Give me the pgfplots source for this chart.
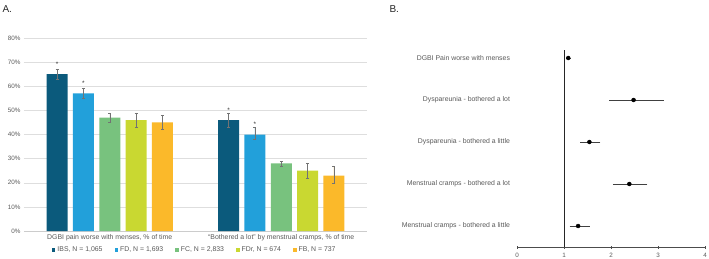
\documentclass[border=0pt]{standalone}
\usepackage{pgfplots}
\pgfplotsset{compat=1.18}
\usepackage{pgfplotstable}
\usepackage{fontspec}
\setmainfont{Liberation Sans}
\definecolor{cIBS}{HTML}{0B5A7C}
\definecolor{cFD}{HTML}{22A0DA}
\definecolor{cFC}{HTML}{78C27E}
\definecolor{cFDr}{HTML}{C9D831}
\definecolor{cFB}{HTML}{FBB92A}
\definecolor{txt}{HTML}{595959}
\pgfplotstableread{
x y ep em
0 65 2 2
1 46 3 3
}\ibs
\pgfplotstableread{
x y ep em
0 57 2 2
1 40 3 2
}\fd
\pgfplotstableread{
x y ep em
0 47 2 2
1 28 1 1
}\fc
\pgfplotstableread{
x y ep em
0 46 3 3
1 25 3 3
}\fdr
\pgfplotstableread{
x y ep em
0 45 3 3
1 23 4 3
}\fb
\pgfplotstableread{
y x xp xm
5 1.09 0.02 0.02
4 2.48 0.61 0.49
3 1.54 0.20 0.16
2 2.39 0.35 0.32
1 1.30 0.22 0.15
}\forest
\begin{document}
\begin{tikzpicture}
\useasboundingbox (0pt,0pt) rectangle (709pt,258pt);
\node[anchor=west,font=\fontsize{10}{10}\selectfont,text=black!85] at (-1pt,249pt) {A.};
\node[anchor=west,font=\fontsize{10}{10}\selectfont,text=black!85] at (386pt,249pt) {B.};
\begin{axis}[
  at={(24pt,27pt)}, anchor=south west,
  scale only axis, width=343pt, height=193pt,
  ybar=5.3pt, bar width=21pt,
  xmin=-0.5, xmax=1.5, ymin=0, ymax=80,
  xtick={0,1},
  xticklabels={{DGBI pain worse with menses, \% of time}, {``Bothered a lot'' by menstrual cramps, \% of time}},
  ytick={0,10,...,80},
  yticklabel={\pgfmathprintnumber{\tick}\%},
  /pgf/number format/assume math mode=true,
  tick label style={font=\fontsize{6.9}{7}\selectfont, text=txt},
  yticklabel style={font=\fontsize{6.3}{7}\selectfont},
  xticklabel style={yshift=0pt},
  ymajorgrids, grid style={draw=black!13, line width=0.5pt},
  axis x line=bottom, axis y line=left,
  y axis line style={draw=none},
  x axis line style={draw=black!20,-},
  major tick length=0pt,
  xtick style={draw=none}, ytick style={draw=none},
  legend style={at={(0.072,-0.098)}, anchor=west, draw=none, fill=none,
     font=\fontsize{6.9}{7}\selectfont, text=txt, legend columns=5,
     /tikz/every even column/.append style={column sep=10pt}},
  legend image code/.code={\fill[#1] (0pt,-1.8pt) rectangle (3.6pt,1.8pt);},
  error bars/y dir=both, error bars/y explicit,
  error bars/error bar style={draw=black!55, line width=0.4pt},
  error bars/error mark options={rotate=90, mark size=1.5pt, draw=black!55, line width=0.4pt},
  nodes near coords style={font=\fontsize{6.5}{6}\selectfont, text=black!80},
]
\addplot[fill=cIBS, draw=none, point meta=explicit,
  visualization depends on={\pgfplotspointmeta \as \myep},
  nodes near coords={*},
  every node near coord/.append style={yshift={\myep*2.42pt+2pt}}]
  table[x=x,y=y,y error plus=ep,y error minus=em,meta=ep]{\ibs};
\addplot[fill=cFD, draw=none, point meta=explicit,
  visualization depends on={\pgfplotspointmeta \as \myep},
  nodes near coords={*},
  every node near coord/.append style={yshift={\myep*2.42pt+2pt}}]
  table[x=x,y=y,y error plus=ep,y error minus=em,meta=ep]{\fd};
\addplot[fill=cFC, draw=none] table[x=x,y=y,y error plus=ep,y error minus=em]{\fc};
\addplot[fill=cFDr, draw=none] table[x=x,y=y,y error plus=ep,y error minus=em]{\fdr};
\addplot[fill=cFB, draw=none] table[x=x,y=y,y error plus=ep,y error minus=em]{\fb};
\legend{{IBS, N = 1,065}, {FD, N = 1,693}, {FC, N = 2,833}, {FDr, N = 674}, {FB, N = 737}}
\end{axis}
\begin{axis}[
  at={(517pt,11pt)}, anchor=south west,
  scale only axis, width=188pt, height=197.4pt,
  xmin=0, xmax=4, ymin=0.5, ymax=5.2,
  xtick={0,1,2,3,4},
  ytick={1,2,3,4,5},
  yticklabels={Menstrual cramps - bothered a little, Menstrual cramps - bothered a lot, Dyspareunia - bothered a little, Dyspareunia - bothered a lot, DGBI Pain worse with menses},
  /pgf/number format/assume math mode=true,
  tick label style={font=\fontsize{6.9}{7}\selectfont, text=txt},
  xticklabel style={font=\fontsize{6.3}{7}\selectfont, yshift=-1pt},
  yticklabel style={xshift=-2pt},
  axis x line=bottom, axis y line=left,
  x axis line style={draw=black!70, line width=0.6pt, -},
  y axis line style={draw=none},
  ytick style={draw=none},
  xtick style={draw=black!70, line width=0.5pt},
  tick align=center, major tick length=3pt,
]
\addplot[draw=black!85, line width=0.7pt] coordinates {(1,0.5) (1,5.2)};
\addplot[only marks, mark=*, mark size=2pt, black,
  error bars/.cd, x dir=both, x explicit,
  error bar style={draw=black!75, line width=0.4pt},
  error mark options={mark size=1.5pt, draw=black!75, line width=0.4pt}]
  table[x=x,y=y,x error plus=xp,x error minus=xm]{\forest};
\end{axis}
\end{tikzpicture}
\end{document}
